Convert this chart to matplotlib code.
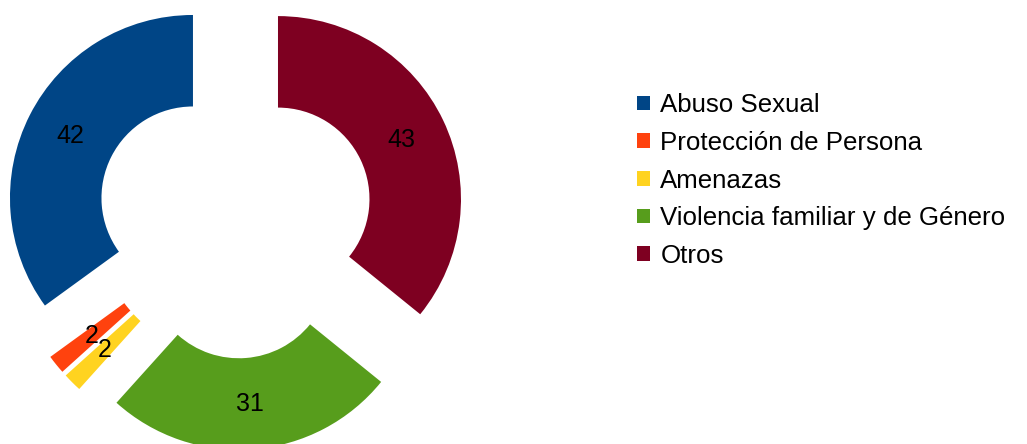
import matplotlib
matplotlib.use("Agg")
import matplotlib.pyplot as plt

categories = ["Abuso Sexual", "Protección de Persona", "Amenazas",
              "Violencia familiar y de Género", "Otros"]
values = [42, 2, 2, 31, 43]
colors = ["#004586", "#ff420e", "#ffd320", "#579d1c", "#7e0021"]

plt.rcParams["font.family"] = ["Liberation Sans", "DejaVu Sans"]

W, H = 1027, 444
fig = plt.figure(figsize=(W / 100, H / 100), dpi=100)
ax = fig.add_axes([0, 0, 1, 1])

radius = 183
offset = 47.4
center = (235.2, H - 219.5)

vals_iter = iter(values)
wedges, texts, autotexts = ax.pie(
    values,
    colors=colors,
    startangle=90,
    counterclock=True,
    radius=radius,
    center=center,
    explode=[offset] * len(values),
    wedgeprops=dict(width=radius * 0.5, linewidth=0),
    autopct=lambda p: str(next(vals_iter)),
    pctdistance=0.75,
    textprops=dict(fontsize=18, color="black"),
    frame=True,
)
ax.set_xlim(0, W)
ax.set_ylim(0, H)
ax.set_aspect("equal")
ax.axis("off")

fig.legend(
    wedges, categories,
    loc="center left",
    bbox_to_anchor=(637 / W, 1 - 180.5 / H),
    frameon=False,
    fontsize=18.6,
    handlelength=0.5,
    handleheight=0.5,
    handletextpad=0.4,
    labelspacing=0.53,
    borderpad=0,
    borderaxespad=0,
)

fig.savefig("out.png", dpi=100)
